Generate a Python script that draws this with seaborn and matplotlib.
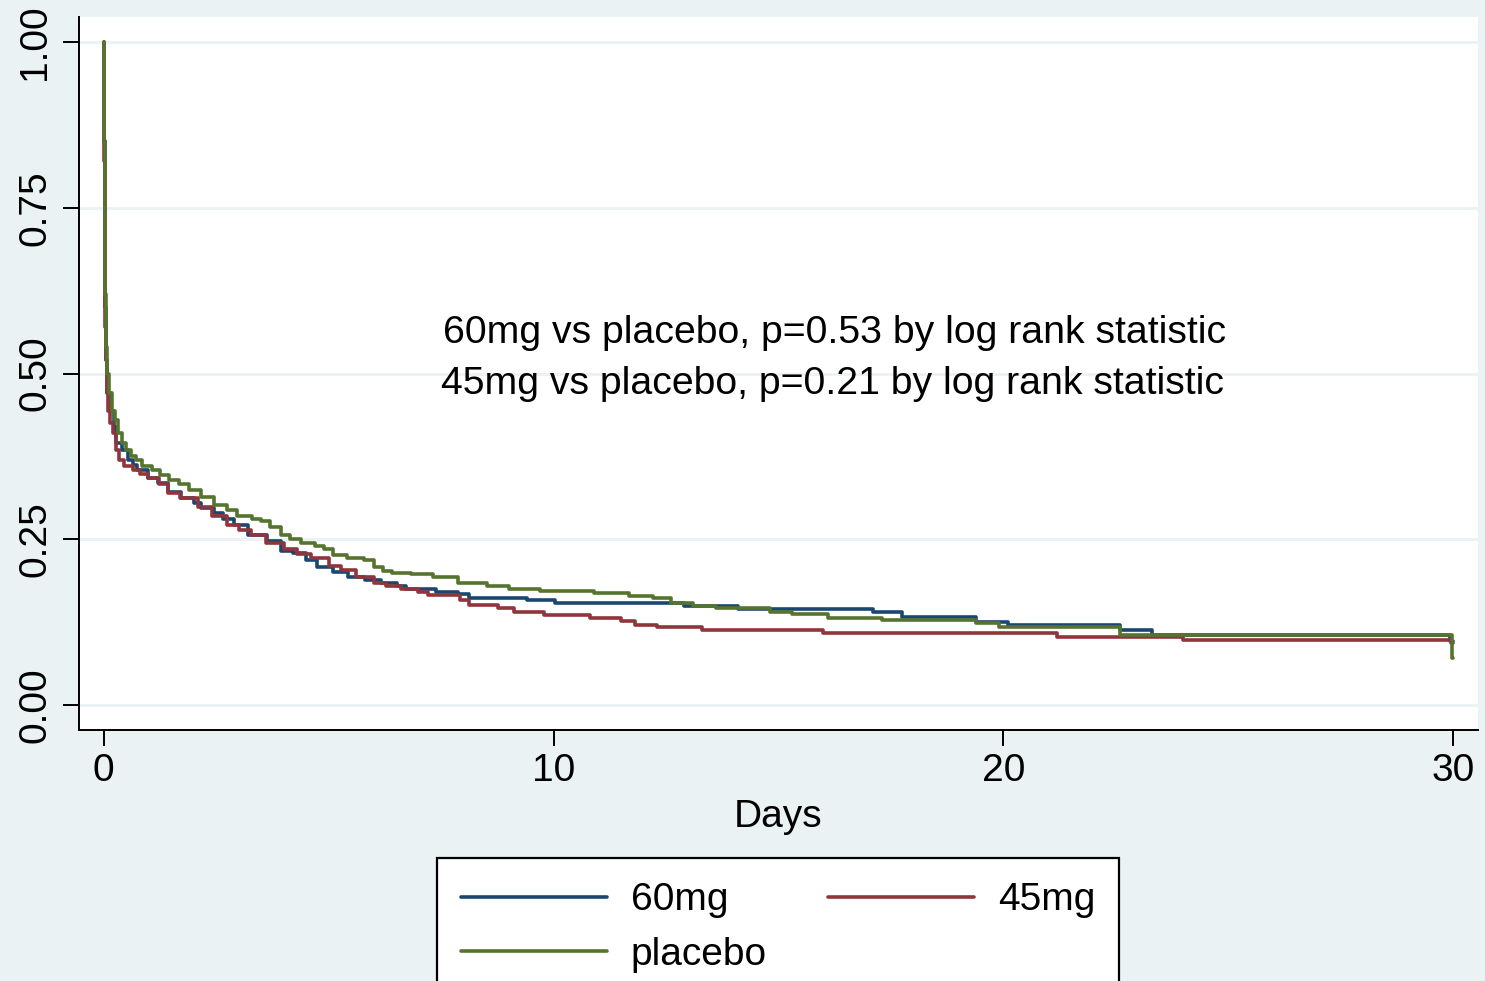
import matplotlib
matplotlib.use("Agg")
import matplotlib.pyplot as plt
import seaborn as sns
import pandas as pd
from matplotlib.lines import Line2D

# ---- data (Kaplan-Meier step points) ----
groups = ["60mg", "45mg", "placebo"]

t_60 = [0, 0.01, 0.02, 0.03, 0.05, 0.08, 0.16, 0.22, 0.28, 0.4,
        0.53, 0.65, 0.75, 0.98, 1.2, 1.42, 1.71, 2.0, 2.16, 2.44,
        2.65, 2.9, 3.2, 3.64, 3.93, 4.2, 4.5, 4.75, 5.1, 5.42,
        5.8, 6.16, 6.53, 6.71, 7.38, 7.87, 8.11, 9.42, 10.04, 12.9,
        14.1, 17.1, 17.75, 19.4, 20.1, 22.6, 23.3, 29.93, 30.0]
s_60 = [1.0, 0.85, 0.72, 0.6, 0.52, 0.47, 0.444, 0.42, 0.395, 0.385,
        0.369, 0.362, 0.354, 0.343, 0.335, 0.322, 0.312, 0.305, 0.297, 0.289,
        0.28, 0.271, 0.256, 0.248, 0.233, 0.229, 0.218, 0.208, 0.2, 0.193,
        0.189, 0.184, 0.179, 0.175, 0.17, 0.167, 0.161, 0.158, 0.154, 0.149,
        0.145, 0.14, 0.133, 0.125, 0.121, 0.113, 0.105, 0.097, 0.097]

t_45 = [0, 0.01, 0.02, 0.03, 0.04, 0.07, 0.1, 0.15, 0.2, 0.28,
        0.33, 0.45, 0.64, 0.8, 0.98, 1.23, 1.42, 1.7, 2.09, 2.4,
        2.75, 3.0, 3.27, 3.6, 4.0, 4.3, 4.6, 5.0, 5.27, 5.6,
        6.0, 6.27, 6.6, 6.98, 7.2, 7.93, 8.11, 8.76, 9.11, 9.78,
        10.82, 11.5, 11.8, 12.3, 13.3, 16.0, 21.2, 24.0, 29.95, 30.0]
s_45 = [1.0, 0.82, 0.68, 0.57, 0.52, 0.47, 0.444, 0.425, 0.41, 0.385,
        0.369, 0.36, 0.354, 0.348, 0.343, 0.334, 0.32, 0.312, 0.298, 0.285,
        0.271, 0.264, 0.256, 0.245, 0.236, 0.228, 0.221, 0.21, 0.203, 0.193,
        0.184, 0.179, 0.175, 0.17, 0.166, 0.158, 0.151, 0.146, 0.14, 0.136,
        0.131, 0.127, 0.12, 0.117, 0.113, 0.109, 0.103, 0.098, 0.094, 0.094]

t_pl = [0, 0.01, 0.02, 0.03, 0.05, 0.08, 0.12, 0.19, 0.25, 0.32,
        0.41, 0.5, 0.6, 0.71, 0.85, 1.08, 1.25, 1.45, 1.67, 1.9,
        2.16, 2.44, 2.75, 2.97, 3.3, 3.49, 3.7, 3.93, 4.15, 4.38,
        4.7, 4.89, 5.1, 5.4, 5.78, 6.0, 6.2, 6.4, 6.82, 7.31,
        7.87, 8.53, 9.0, 9.7, 10.9, 11.67, 12.2, 12.6, 13.1, 13.6,
        14.8, 15.3, 16.1, 17.3, 19.4, 19.9, 22.6, 29.98, 30.0]
s_pl = [1.0, 0.85, 0.72, 0.62, 0.54, 0.5, 0.47, 0.444, 0.43, 0.41,
        0.395, 0.385, 0.375, 0.369, 0.36, 0.354, 0.347, 0.34, 0.334, 0.325,
        0.313, 0.301, 0.294, 0.285, 0.28, 0.277, 0.268, 0.256, 0.25, 0.245,
        0.24, 0.236, 0.226, 0.222, 0.218, 0.208, 0.202, 0.199, 0.197, 0.193,
        0.184, 0.179, 0.175, 0.172, 0.169, 0.164, 0.161, 0.154, 0.149, 0.146,
        0.14, 0.137, 0.131, 0.128, 0.123, 0.117, 0.105, 0.071, 0.071]

x_ticks = [0, 10, 20, 30]
y_ticks = [0.0, 0.25, 0.5, 0.75, 1.0]
y_tick_labels = ["0.00", "0.25", "0.50", "0.75", "1.00"]
annot_lines = ["60mg vs placebo, p=0.53 by log rank statistic",
               "45mg vs placebo, p=0.21 by log rank statistic"]
x_label = "Days"

colors = {"60mg": "#1A476F", "45mg": "#90353B", "placebo": "#55752F"}
bg = "#EAF2F3"

# ---- build long table ----
frames = []
for g, t, s in zip(groups, [t_60, t_45, t_pl], [s_60, s_45, s_pl]):
    frames.append(pd.DataFrame({"Days": t, "Survival": s, "group": g}))
df = pd.concat(frames, ignore_index=True)

sns.set_theme(style="white")
plt.rcParams["font.family"] = ["Liberation Sans", "DejaVu Sans"]
plt.rcParams["text.color"] = "black"
plt.rcParams["axes.labelcolor"] = "black"
plt.rcParams["xtick.color"] = "black"
plt.rcParams["ytick.color"] = "black"

fig = plt.figure(figsize=(14.85, 9.81), dpi=100, facecolor=bg)
ax = fig.add_axes([79 / 1485, 1 - 730 / 981, (1478 - 79) / 1485, (730 - 17) / 981])
ax.set_facecolor("white")

lw = 2.6
sns.lineplot(data=df, x="Days", y="Survival", hue="group", hue_order=groups,
             palette=colors, estimator=None, sort=False, drawstyle="steps-post",
             linewidth=lw, legend=False, ax=ax)

ax.set_xlim(-0.55, 30.55)
ax.set_ylim(-0.0377, 1.0377)
ax.set_xticks(x_ticks)
ax.set_xticklabels([str(v) for v in x_ticks])
ax.set_yticks(y_ticks)
ax.set_yticklabels(y_tick_labels, rotation=90, va="center")

fs = 28
ax.tick_params(axis="both", which="major", labelsize=fs, length=11.5, width=1.4,
               color="black", labelcolor="black", direction="out",
               left=True, bottom=True)
ax.tick_params(axis="y", pad=7)
ax.tick_params(axis="x", pad=5)

ax.grid(axis="y", color=bg, linewidth=2.0)
ax.grid(axis="x", visible=False)
ax.set_axisbelow(True)

for side in ["top", "right"]:
    ax.spines[side].set_visible(False)
for side in ["left", "bottom"]:
    ax.spines[side].set_color("black")
    ax.spines[side].set_linewidth(1.4)

ax.set_xlabel(x_label, fontsize=fs, labelpad=7, color="black")
ax.set_ylabel("")

afs = 28.3
ax.text(16.24, 0.561, annot_lines[0], fontsize=afs, ha="center", va="center",
        color="black")
ax.text(16.20, 0.484, annot_lines[1], fontsize=afs, ha="center", va="center",
        color="black")

order = ["60mg", "placebo", "45mg"]
handles = [Line2D([0], [0], color=colors[g], linewidth=lw) for g in order]
leg = fig.legend(handles, order, loc="upper center",
                 bbox_to_anchor=(778 / 1485, 1 - 858 / 981), ncol=2,
                 fontsize=fs, frameon=True, fancybox=False, edgecolor="black",
                 facecolor="white", framealpha=1, handlelength=3.75,
                 handletextpad=0.62, columnspacing=1.57, labelspacing=0.48,
                 borderpad=0.62, borderaxespad=0)
leg.get_frame().set_linewidth(1.6)
for txt in leg.get_texts():
    txt.set_color("black")

fig.savefig("out.png", dpi=100, facecolor=bg)
